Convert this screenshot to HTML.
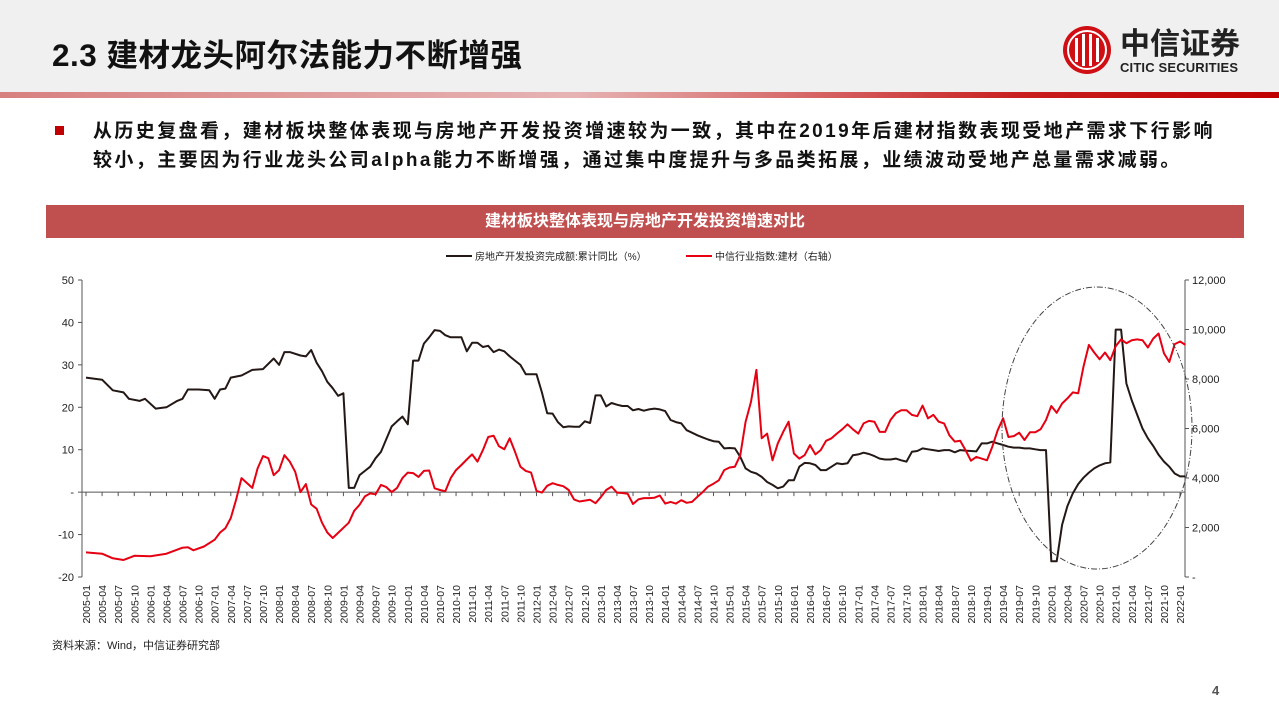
<!DOCTYPE html>
<html><head><meta charset="utf-8">
<style>
body{margin:0;width:1279px;height:719px;overflow:hidden;background:#fff;font-family:"Liberation Sans","Noto Sans CJK SC",sans-serif;position:relative}
.hdr{position:absolute;left:0;top:0;width:1279px;height:92px;background:#f0f0f0}
.title{position:absolute;left:52px;top:30px;font-size:31.5px;font-weight:bold;color:#111;letter-spacing:0.5px}
.redline{position:absolute;left:0;top:92px;width:1279px;height:6px;background:linear-gradient(90deg,#d88080,#e6b3b3 45%,#c81e1e 80%,#c00000)}
.bul{position:absolute;left:55px;top:126px;width:9px;height:9px;background:#c00000}
.txt{position:absolute;left:93px;top:117px;font-size:19px;font-weight:bold;color:#111;line-height:29px;width:1180px;letter-spacing:2.4px;white-space:nowrap}
.ctitle{position:absolute;left:46px;top:205px;width:1198px;height:33px;background:#c0504f;color:#fff;font-weight:bold;font-size:16px;text-align:center;line-height:33px}
.src{position:absolute;left:52px;top:637px;font-size:11px;color:#222}
.pg{position:absolute;left:1212px;top:683px;font-size:13px;color:#555;font-weight:bold}
.logo{position:absolute;left:1060px;top:24px}
</style></head><body>
<div class="hdr"></div>
<div class="title">2.3 建材龙头阿尔法能力不断增强</div>
<div class="logo">
<svg width="200" height="56">
<circle cx="27" cy="26" r="24" fill="#d00f14"/>
<circle cx="27" cy="26" r="19" fill="none" stroke="#fff" stroke-width="2"/>
<rect x="15" y="14" width="3" height="24" fill="#fff"/><rect x="22" y="10" width="3" height="32" fill="#fff"/><rect x="29" y="10" width="3" height="32" fill="#fff"/><rect x="36" y="14" width="3" height="24" fill="#fff"/>
<text x="60" y="30" font-size="30" font-weight="bold" fill="#222" font-family="Noto Sans CJK SC,sans-serif">中信证券</text>
<text x="60" y="48" font-size="13" font-weight="bold" fill="#222" font-family="Liberation Sans,sans-serif" textLength="118">CITIC SECURITIES</text>
</svg></div>
<div class="redline"></div>
<div class="bul"></div>
<div class="txt">从历史复盘看，建材板块整体表现与房地产开发投资增速较为一致，其中在2019年后建材指数表现受地产需求下行影响<br>较小，主要因为行业龙头公司alpha能力不断增强，通过集中度提升与多品类拓展，业绩波动受地产总量需求减弱。</div>
<div class="ctitle">建材板块整体表现与房地产开发投资增速对比</div>
<svg id="chart" width="1279" height="719" style="position:absolute;left:0;top:0"></svg>
<div class="src">资料来源：Wind，中信证券研究部</div>
<div class="pg">4</div>
<script>
const blackDates=["2005-01","2005-04","2005-06","2005-08","2005-09","2005-11","2005-12","2006-02","2006-04","2006-06","2006-07","2006-08","2006-10","2006-12","2007-01","2007-02","2007-03","2007-04","2007-06","2007-08","2007-10","2007-12","2008-01","2008-02","2008-03","2008-05","2008-06","2008-07","2008-08","2008-09","2008-10","2008-11","2008-12",
"2009-01","2009-02","2009-03","2009-04","2009-05","2009-06","2009-07","2009-08","2009-09","2009-10","2009-11","2009-12",
"2010-01","2010-02","2010-03","2010-04","2010-05","2010-06","2010-07","2010-08","2010-09","2010-10","2010-11","2010-12",
"2011-01","2011-02","2011-03","2011-04","2011-05","2011-06","2011-07","2011-08","2011-09","2011-10","2011-11","2011-12",
"2012-01","2012-02","2012-03","2012-04","2012-05","2012-06","2012-07","2012-08","2012-09","2012-10","2012-11","2012-12",
"2013-01","2013-02","2013-03","2013-04","2013-05","2013-06","2013-07","2013-08","2013-09","2013-10","2013-11","2013-12",
"2014-01","2014-02","2014-03","2014-04","2014-05","2014-06","2014-07","2014-08","2014-09","2014-10","2014-11","2014-12",
"2015-01","2015-02","2015-03","2015-04","2015-05","2015-06","2015-07","2015-08","2015-09","2015-10","2015-11","2015-12",
"2016-01","2016-02","2016-03","2016-04","2016-05","2016-06","2016-07","2016-08","2016-09","2016-10","2016-11","2016-12",
"2017-01","2017-02","2017-03","2017-04","2017-05","2017-06","2017-07","2017-08","2017-09","2017-10","2017-11","2017-12",
"2018-01","2018-02","2018-03","2018-04","2018-05","2018-06","2018-07","2018-08","2018-09","2018-10","2018-11","2018-12",
"2019-01","2019-02","2019-03","2019-04","2019-05","2019-06","2019-07","2019-08","2019-09","2019-10","2019-11","2019-12",
"2020-01","2020-02","2020-03","2020-04","2020-05","2020-06","2020-07","2020-08","2020-09","2020-10","2020-11","2020-12",
"2021-01","2021-02","2021-03","2021-04","2021-05","2021-06","2021-07","2021-08","2021-09","2021-10","2021-11","2021-12",
"2022-01","2022-02"];
const blackValues=[27,26.5,24,23.5,22,21.5,22,19.7,20,21.5,22,24.2,24.2,24,22,24.2,24.4,27,27.5,28.8,29,31.5,30,33,33,32.2,32,33.5,30.5,28.5,26,24.5,22.7,
23.3,1,1,4,5,6,8,9.5,12.5,15.5,16.7,17.8,
16,31,31,35,36.5,38.2,38,37,36.5,36.5,36.5,33.2,
35.2,35.2,34.2,34.5,33,33.6,33.2,32,31,30,27.8,27.8,
27.8,23.5,18.6,18.5,16.5,15.3,15.5,15.4,15.4,16.7,16.3,22.8,
22.8,20.2,21,20.6,20.3,20.3,19.3,19.6,19.2,19.5,19.7,19.5,
19.1,17,16.5,16.2,14.6,14,13.4,12.9,12.4,12,11.9,10.3,
10.4,10.3,8.3,5.6,4.8,4.4,3.6,2.4,1.7,0.9,1.3,2.8,
2.8,6,6.9,6.8,6.4,5.2,5.2,6,6.8,6.6,6.8,8.7,
8.9,9.3,9,8.5,7.9,7.7,7.7,7.9,7.5,7.2,9.5,9.7,
10.3,10.1,9.9,9.7,9.9,9.9,9.4,9.9,9.8,9.7,9.6,11.5,
11.5,11.9,11.5,11.1,10.7,10.5,10.5,10.3,10.3,10.1,9.9,9.9,
-16.3,-16.3,-7.7,-3.3,-0.3,1.9,3.4,4.6,5.6,6.3,6.8,7.0,
38.3,38.3,25.6,21.6,18.3,15.0,12.7,10.9,8.8,7.2,6.0,4.4,
3.7,3.7];
const redDates=["2005-01","2005-04","2005-06","2005-08","2005-10","2006-01","2006-04","2006-07","2006-08","2006-09","2006-11","2007-01","2007-02","2007-03","2007-04","2007-05","2007-06","2007-08","2007-09","2007-10","2007-11","2007-12",
"2008-01","2008-02","2008-03","2008-04","2008-05","2008-06","2008-07","2008-08","2008-09","2008-10","2008-11","2008-12",
"2009-01","2009-02","2009-03","2009-04","2009-05","2009-06","2009-07","2009-08","2009-09","2009-10","2009-11","2009-12",
"2010-01","2010-02","2010-03","2010-04","2010-05","2010-06","2010-07","2010-08","2010-09","2010-10","2010-11","2010-12",
"2011-01","2011-02","2011-03","2011-04","2011-05","2011-06","2011-07","2011-08","2011-09","2011-10","2011-11","2011-12",
"2012-01","2012-02","2012-03","2012-04","2012-05","2012-06","2012-07","2012-08","2012-09","2012-10","2012-11","2012-12",
"2013-01","2013-02","2013-03","2013-04","2013-05","2013-06","2013-07","2013-08","2013-09","2013-10","2013-11","2013-12",
"2014-01","2014-02","2014-03","2014-04","2014-05","2014-06","2014-07","2014-08","2014-09","2014-10","2014-11","2014-12",
"2015-01","2015-02","2015-03","2015-04","2015-05","2015-06","2015-07","2015-08","2015-09","2015-10","2015-11","2015-12",
"2016-01","2016-02","2016-03","2016-04","2016-05","2016-06","2016-07","2016-08","2016-09","2016-10","2016-11","2016-12",
"2017-01","2017-02","2017-03","2017-04","2017-05","2017-06","2017-07","2017-08","2017-09","2017-10","2017-11","2017-12",
"2018-01","2018-02","2018-03","2018-04","2018-05","2018-06","2018-07","2018-08","2018-09","2018-10","2018-11","2018-12",
"2019-01","2019-02","2019-03","2019-04","2019-05","2019-06","2019-07","2019-08","2019-09","2019-10","2019-11","2019-12",
"2020-01","2020-02","2020-03","2020-04","2020-05","2020-06","2020-07","2020-08","2020-09","2020-10","2020-11","2020-12",
"2021-01","2021-02","2021-03","2021-04","2021-05","2021-06","2021-07","2021-08","2021-09","2021-10","2021-11","2021-12",
"2022-01","2022-02"];
const redValues=[994,943,754,686,857,840,943,1183,1200,1080,1234,1509,1800,1971,2383,3137,3994,3600,4389,4886,4800,4114,
4320,4920,4663,4251,3429,3754,2931,2760,2194,1800,1577,1783,
1989,2194,2674,2914,3257,3377,3343,3720,3634,3429,3600,3994,
4217,4200,4046,4286,4303,3583,3514,3463,3994,4320,4526,4749,
4954,4663,5126,5657,5709,5280,5160,5606,5057,4457,4286,4217,
3480,3411,3686,3789,3720,3669,3514,3137,3051,3086,3120,2983,
3223,3514,3651,3411,3394,3360,2949,3137,3189,3189,3206,3291,
2966,3034,2966,3103,3000,3034,3240,3429,3651,3771,3909,4320,
4423,4457,4920,6274,7080,8366,5606,5794,4714,5400,5863,6274,
4989,4783,4920,5331,4954,5126,5503,5606,5794,5966,6171,5966,
5794,6206,6309,6274,5863,5863,6343,6617,6737,6737,6549,6497,
6926,6411,6549,6274,6206,5726,5469,5503,5126,4697,4851,4783,
4714,5263,5931,6411,5657,5691,5829,5537,5846,5846,5966,6343,
6909,6634,7011,7217,7457,7423,8503,9377,9069,8794,9069,8760,
9326,9600,9446,9566,9600,9566,9274,9634,9840,9034,8691,9411,
9514,9377];
const leftTicks=[50,40,30,20,10,0,-10,-20];
const leftTickLabels=["50","40","30","20","10","-","-10","-20"];
const rightTicks=[12000,10000,8000,6000,4000,2000,0];
const rightTickLabels=["12,000","10,000","8,000","6,000","4,000","2,000","-"];
const seriesNames=["房地产开发投资完成额:累计同比（%）","中信行业指数:建材（右轴）"];

const NS="http://www.w3.org/2000/svg";
const svg=document.getElementById('chart');
const X0=86,DX=5.363,YT=280,YB=577,AXL=82,AXR=1185;
function mi(d){const p=d.split('-');return (+p[0]-2005)*12+(+p[1]-1);}
function xs(d){return X0+mi(d)*DX;}
function yl(v){return YB-(v+20)/70*(YB-YT);}
function yr(v){return YB-v/12000*(YB-YT);}
function mk(tag,attrs,txt){const e=document.createElementNS(NS,tag);for(const k in attrs)e.setAttribute(k,attrs[k]);if(txt!==undefined)e.textContent=txt;svg.appendChild(e);return e;}
let e=mk('line',{x1:AXL,y1:YT,x2:AXL,y2:YB,stroke:'#555','stroke-width':1});


e=mk('line',{x1:AXR,y1:YT,x2:AXR,y2:YB,stroke:'#555','stroke-width':1});


leftTicks.forEach((t,i)=>{
  const y=yl(t);
  mk('line',{x1:AXL-4,y1:y,x2:AXL,y2:y,stroke:'#555'});
  const tx=mk('text',{x:AXL-8,y:y+4,'text-anchor':'end','font-size':11,fill:'#222'},leftTickLabels[i]);
  
  
});
rightTicks.forEach((t,i)=>{
  const y=yr(t);
  mk('line',{x1:AXR,y1:y,x2:AXR+4,y2:y,stroke:'#555'});
  const tx=mk('text',{x:AXR+7,y:y+4,'font-size':11,fill:'#222'},rightTickLabels[i]);
  
  
});
e=mk('line',{x1:AXL,y1:yl(0),x2:AXR,y2:yl(0),stroke:'#555','stroke-width':1});


for(let y=2005;y<=2022;y++){for(const m of [1,4,7,10]){
  if(y===2022&&m>1)break;
  const d=y+'-'+String(m).padStart(2,'0');const x=xs(d);
  mk('line',{x1:x,y1:yl(0),x2:x,y2:yl(0)+4,stroke:'#555'});
  const tx=mk('text',{x:0,y:0,'font-size':10.5,fill:'#222','text-anchor':'end',transform:`translate(${x+4},${YB+8}) rotate(-90)`},d);
  
  
}}
let p=blackDates.map((d,i)=>(i?'L':'M')+xs(d).toFixed(1)+' '+yl(blackValues[i]).toFixed(1)).join('');
e=mk('path',{d:p,fill:'none',stroke:'#231815','stroke-width':2,'stroke-linejoin':'round'});


p=redDates.map((d,i)=>(i?'L':'M')+xs(d).toFixed(1)+' '+yr(redValues[i]).toFixed(1)).join('');
e=mk('path',{d:p,fill:'none',stroke:'#e60012','stroke-width':2,'stroke-linejoin':'round'});


e=mk('ellipse',{cx:1097,cy:428,rx:95,ry:141,fill:'none',stroke:'#444','stroke-width':1,'stroke-dasharray':'6 2 1 2'});


mk('line',{x1:446,y1:256,x2:472,y2:256,stroke:'#231815','stroke-width':2});
e=mk('text',{x:475,y:260,'font-size':10,fill:'#222'},seriesNames[0]);


mk('line',{x1:686,y1:256,x2:712,y2:256,stroke:'#e60012','stroke-width':2});
e=mk('text',{x:715,y:260,'font-size':10,fill:'#222'},seriesNames[1]);


</script>
</body></html>
